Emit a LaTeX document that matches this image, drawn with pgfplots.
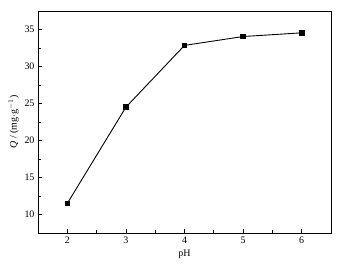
\documentclass[border=0pt]{standalone}
\usepackage{pgfplots}
\pgfplotsset{compat=1.18}
\usepackage{fontspec}
\setmainfont{Liberation Serif}
\begin{document}
\begin{tikzpicture}
\begin{axis}[
  scale only axis,
  width=293bp, height=222bp,
  xmin=1.5, xmax=6.5, ymin=7.5, ymax=37.5,
  xtick={2,3,4,5,6}, ytick={10,15,20,25,30,35},
  minor x tick num=1, minor y tick num=1,
  tick align=inside,
  xtick pos=bottom, ytick pos=left,
  major tick length=4bp, minor tick length=2.5bp,
  axis line style={line width=1pt},
  every tick/.style={black, line width=0.8pt},
  tick label style={font=\fontsize{10}{11}\selectfont},
  label style={font=\fontsize{10}{11}\selectfont},
  /pgf/number format/assume math mode=true,
  xlabel={pH},
  ylabel={\textit{Q} / (mg$\cdot$g$^{-1}$)},
  xlabel style={yshift=0pt},
  ylabel style={yshift=-1pt},
]
\addplot[black, line width=0.9pt, mark=square*, mark size=2.3pt] coordinates {
(2,11.5) (3,24.5) (4,32.85) (5,34.05) (6,34.55)
};
\end{axis}
\path (-38bp,-33bp) rectangle (317bp,233bp);
\end{tikzpicture}
\end{document}
